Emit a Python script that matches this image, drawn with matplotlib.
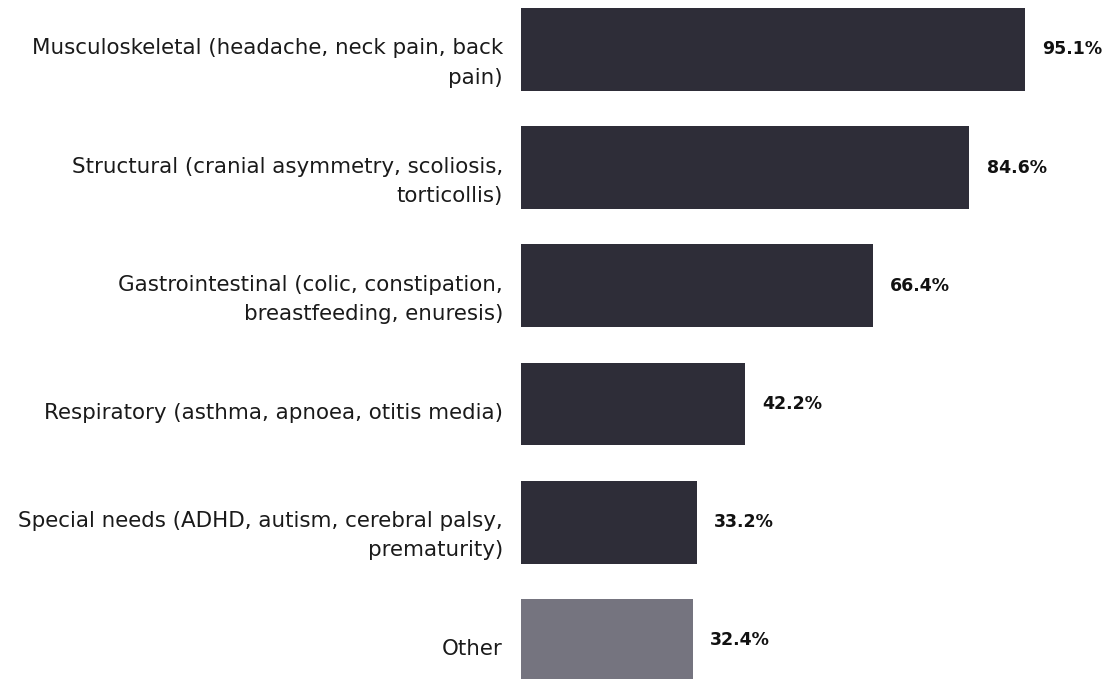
import matplotlib
matplotlib.use("Agg")
import matplotlib.pyplot as plt
import matplotlib.transforms as mtransforms

categories = [
    "Musculoskeletal (headache, neck pain, back\npain)",
    "Structural (cranial asymmetry, scoliosis,\ntorticollis)",
    "Gastrointestinal (colic, constipation,\nbreastfeeding, enuresis)",
    "Respiratory (asthma, apnoea, otitis media)",
    "Special needs (ADHD, autism, cerebral palsy,\nprematurity)",
    "Other",
]
values = [95.1, 84.6, 66.4, 42.2, 33.2, 32.4]
value_labels = ["95.1%", "84.6%", "66.4%", "42.2%", "33.2%", "32.4%"]

dark = "#2e2d38"
grey = "#75747f"
colors = [dark] * 5 + [grey]

plt.rcParams["font.family"] = ["DejaVu Sans"]

fig = plt.figure(figsize=(11.2, 6.79), dpi=100)
ax = fig.add_axes([521 / 1120, 0.0, 1 - 521 / 1120, 1.0])

pos = list(range(len(categories)))
ax.barh(pos, values, height=0.70, color=colors)

ax.set_xlim(0, (1120 - 521) / 5.3)
ax.set_ylim(5.327, -0.418)

ax.set_yticks(pos)
ax.set_yticklabels(categories, fontsize=15.4, color="#1a1a1a", linespacing=1.58)
ax.tick_params(axis="y", length=0, pad=13)
ax.set_xticks([])
shift = mtransforms.ScaledTranslation(0, -7 / 100, fig.dpi_scale_trans)
for lab in ax.get_yticklabels():
    lab.set_transform(lab.get_transform() + shift)

for s in ax.spines.values():
    s.set_visible(False)

for p, v, t in zip(pos, values, value_labels):
    ax.annotate(t, xy=(v, p), xytext=(12.5, 0), textcoords="offset points",
                ha="left", va="center", fontsize=12.5, fontweight="bold",
                color="#111111")

fig.savefig("out.png", dpi=100)
